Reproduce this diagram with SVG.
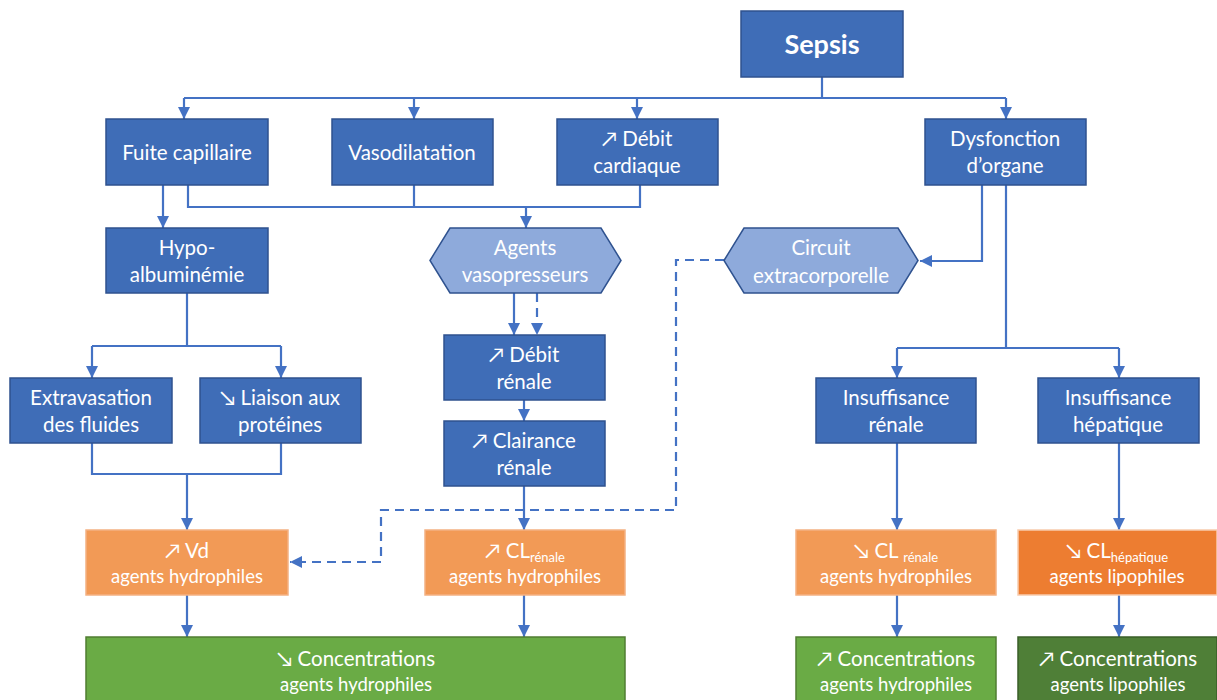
<svg xmlns="http://www.w3.org/2000/svg" width="1217" height="700" viewBox="0 0 1217 700">
<defs>
<style>
.b{fill:#3f6db7;stroke:#2f528f;stroke-width:1.5}
.h{fill:#8eaadb;stroke:#2f528f;stroke-width:1.5}
.o{fill:#f29a56;stroke:#f4b183;stroke-width:1.5}
.od{fill:#ed7d31;stroke:#f8cbad;stroke-width:1.5}
.g{fill:#6aab45;stroke:#507e32;stroke-width:1.5}
.gd{fill:#4f7f37;stroke:#3a5f28;stroke-width:1.5}
text{font-family:Lato,"Open Sans","DejaVu Sans",sans-serif;fill:#ffffff;text-anchor:middle;font-size:20.5px}
.s{font-size:18.5px}
.sub{font-size:13px}
.t{font-size:27px;font-weight:bold}
.c{fill:none;stroke:#4472c4;stroke-width:2.2}
.d{stroke-dasharray:9,6}
</style>
<marker id="a" markerUnits="userSpaceOnUse" markerWidth="12" markerHeight="12" refX="10" refY="5" orient="auto" viewBox="0 0 10 10">
<path d="M0,0 L10,5 L0,10 Z" fill="#4472c4"/>
</marker>
</defs>

<g id="connectors">
<path class="c" d="M822,77 V98 M184,98 H1006"/>
<path class="c" d="M184,98 V119" marker-end="url(#a)"/>
<path class="c" d="M414,98 V119" marker-end="url(#a)"/>
<path class="c" d="M637,98 V119" marker-end="url(#a)"/>
<path class="c" d="M1006,98 V119" marker-end="url(#a)"/>
<path class="c" d="M163,185 V228" marker-end="url(#a)"/>
<path class="c" d="M188,185 V207 H640 V185 M414,185 V207"/>
<path class="c" d="M526,207 V228" marker-end="url(#a)"/>
<path class="c" d="M982,185 V261 H920" marker-end="url(#a)"/>
<path class="c" d="M1006,185 V348 M897,348 H1119"/>
<path class="c" d="M897,348 V378" marker-end="url(#a)"/>
<path class="c" d="M1119,348 V378" marker-end="url(#a)"/>
<path class="c" d="M187,293 V346 M92,346 H281"/>
<path class="c" d="M92,346 V378" marker-end="url(#a)"/>
<path class="c" d="M281,346 V378" marker-end="url(#a)"/>
<path class="c" d="M92,443 V474 H281 V443 M187,474 V530" marker-end="url(#a)"/>
<path class="c" d="M514,293 V335" marker-end="url(#a)"/>
<path class="c d" d="M537,293 V335" marker-end="url(#a)"/>
<path class="c d" d="M724,260 H676 V510 H381 V562 H290" marker-end="url(#a)"/>
<path class="c" d="M524,400 V421" marker-end="url(#a)"/>
<path class="c" d="M524,486 V530" marker-end="url(#a)"/>
<path class="c" d="M187,595 V637" marker-end="url(#a)"/>
<path class="c" d="M524,595 V637" marker-end="url(#a)"/>
<path class="c" d="M897,443 V530" marker-end="url(#a)"/>
<path class="c" d="M1119,443 V530" marker-end="url(#a)"/>
<path class="c" d="M897,595 V637" marker-end="url(#a)"/>
<path class="c" d="M1119,595 V637" marker-end="url(#a)"/>
</g>

<g id="sepsis"><rect class="b" x="741" y="11" width="162" height="66"/><text class="t" x="822" y="54">Sepsis</text></g>
<g id="fuite"><rect class="b" x="106" y="119" width="162" height="66"/><text x="187" y="160">Fuite capillaire</text></g>
<g id="vasodilatation"><rect class="b" x="332" y="119" width="161" height="66"/><text x="412" y="160">Vasodilatation</text></g>
<g id="debit-cardiaque"><rect class="b" x="557" y="119" width="161" height="66"/><text x="637" y="146">↗ Débit</text><text x="637" y="173">cardiaque</text></g>
<g id="dysfonction"><rect class="b" x="925" y="119" width="161" height="66"/><text x="1005" y="146">Dysfonction</text><text x="1005" y="173">d’organe</text></g>
<g id="hypo"><rect class="b" x="106" y="228" width="162" height="65"/><text x="187" y="255">Hypo-</text><text x="187" y="282">albuminémie</text></g>
<g id="vasopresseurs"><path class="h" d="M430,260.5 L450,228 H601 L621,260.5 L601,293 H450 Z"/><text x="525" y="255">Agents</text><text x="525" y="282">vasopresseurs</text></g>
<g id="circuit"><path class="h" d="M724,260.5 L744,228 H898 L918,260.5 L898,293 H744 Z"/><text x="821" y="255">Circuit</text><text x="821" y="283">extracorporelle</text></g>
<g id="extravasation"><rect class="b" x="10" y="378" width="162" height="65"/><text x="91" y="405">Extravasation</text><text x="91" y="432">des fluides</text></g>
<g id="liaison"><rect class="b" x="200" y="378" width="161" height="65"/><text x="280" y="405">↘ Liaison aux</text><text x="280" y="432">protéines</text></g>
<g id="debit-renale"><rect class="b" x="444" y="335" width="161" height="65"/><text x="524" y="362">↗ Débit</text><text x="524" y="389">rénale</text></g>
<g id="clairance"><rect class="b" x="444" y="421" width="161" height="65"/><text x="524" y="448">↗ Clairance</text><text x="524" y="475">rénale</text></g>
<g id="insuf-renale"><rect class="b" x="816" y="378" width="160" height="65"/><text x="896" y="405">Insuffisance</text><text x="896" y="432">rénale</text></g>
<g id="insuf-hepatique"><rect class="b" x="1038" y="378" width="161" height="65"/><text x="1118" y="405">Insuffisance</text><text x="1118" y="432">hépatique</text></g>
<g id="vd"><rect class="o" x="86" y="530" width="202" height="65"/><text x="187" y="558">↗ Vd</text><text class="s" x="187" y="583">agents hydrophiles</text></g>
<g id="cl-renale-up"><rect class="o" x="425" y="530" width="200" height="65"/><text x="525" y="558">↗ CL<tspan class="sub" dy="4">rénale</tspan></text><text class="s" x="525" y="583">agents hydrophiles</text></g>
<g id="cl-renale-down"><rect class="o" x="796" y="530" width="200" height="65"/><text x="896" y="558">↘ CL <tspan class="sub" dy="4">rénale</tspan></text><text class="s" x="896" y="583">agents hydrophiles</text></g>
<g id="cl-hepatique"><rect class="od" x="1018" y="530" width="199" height="65"/><text x="1117" y="558">↘ CL<tspan class="sub" dy="4">hépatique</tspan></text><text class="s" x="1117" y="583">agents lipophiles</text></g>
<g id="conc-down"><rect class="g" x="86" y="637" width="539" height="70"/><text x="356" y="666">↘ Concentrations</text><text class="s" x="356" y="691">agents hydrophiles</text></g>
<g id="conc-up-hydro"><rect class="g" x="796" y="637" width="200" height="70"/><text x="896" y="666">↗ Concentrations</text><text class="s" x="896" y="691">agents hydrophiles</text></g>
<g id="conc-up-lipo"><rect class="gd" x="1018" y="637" width="199" height="70"/><text x="1118" y="666">↗ Concentrations</text><text class="s" x="1118" y="691">agents lipophiles</text></g>
</svg>
